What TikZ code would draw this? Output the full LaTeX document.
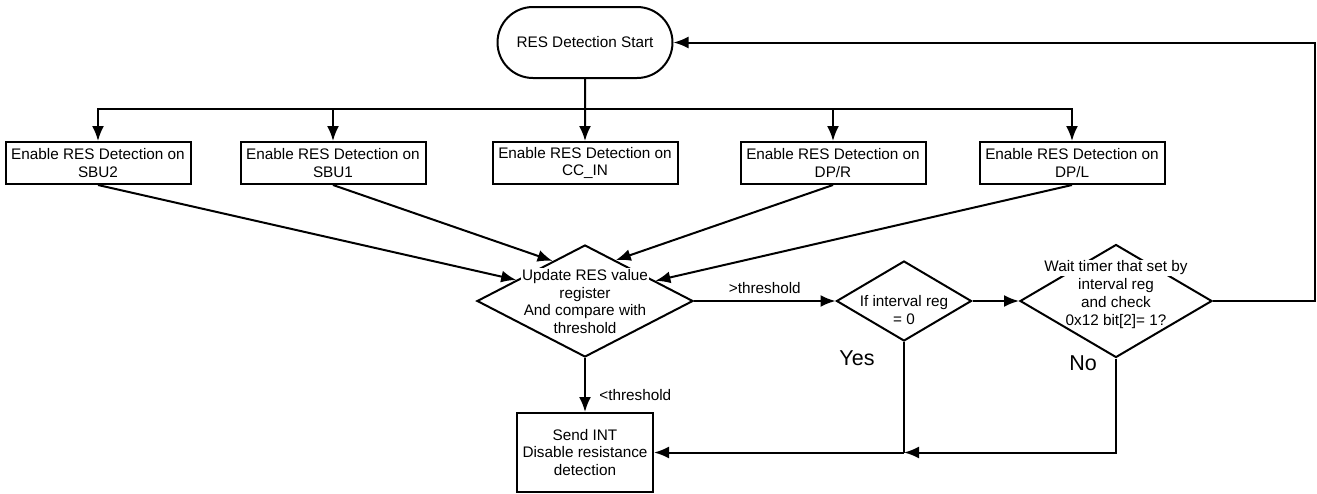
\documentclass[tikz,border=0pt]{standalone}
\usepackage{fontspec}
\setmainfont{Liberation Sans}
\usetikzlibrary{arrows.meta,shapes.geometric,shapes.misc}
\newcommand{\linebg}[1]{{\setlength{\fboxsep}{1pt}\colorbox{white}{#1}}}
\begin{document}
\begin{tikzpicture}[x=1pt, y=-1pt, line width=2pt, font=\fontsize{15.3}{17.8}\selectfont]
\tikzset{ >={Latex[length=15pt,width=12pt]},
  box/.style={draw, rectangle, minimum width=185pt, minimum height=42pt, inner sep=0pt, align=center},
  decision/.style={draw, diamond, inner sep=0pt},
  terminal/.style={draw, rounded rectangle, minimum width=175pt, minimum height=71pt, inner sep=0pt},
  answer/.style={font=\fontsize{21.5}{25}\selectfont},
}

\useasboundingbox (0,0) rectangle (1317,493);

%\draw [lightgray, dashed](0,0) grid[step=50] (1317,493);

\node [terminal] (start) at (585,42.5) {RES Detection Start};

\node [box] (sbu2) at (98,163)   {Enable RES Detection on\\SBU2};
\node [box] (sbu1) at (333,163)  {Enable RES Detection on\\SBU1};
\node [box] (cc)   at (585,163)  {Enable RES Detection on\\CC\_IN};
\node [box] (dpr)  at (833,163)  {Enable RES Detection on\\DP/R};
\node [box] (dpl)  at (1072,163) {Enable RES Detection on\\DP/L};

\node [decision, minimum width=216pt, minimum height=112pt,
       label={[align=center]center:\linebg{Update RES value}\\register\\And compare with\\threshold}] (upd) at (585,301) {};
\node [decision, minimum width=135pt, minimum height=80pt,
       label={[align=center, yshift=-9pt]center:If interval reg\\= 0}] (ifint) at (904,301) {};
\node [decision, minimum width=192pt, minimum height=113pt,
       label={[align=center, yshift=7pt]center:\linebg{Wait timer that set by}\\interval reg\\and check\\{0x12 bit[2]= 1?}}] (wait) at (1116,301) {};

\node [box, minimum width=136pt, minimum height=79pt] (send) at (585,452.5) {Send INT\\Disable resistance\\detection};

\node [answer] (yes) at (857,358) {Yes};
\node [answer] (no)  at (1083,363) {No};

\coordinate (bus)  at (585,109);
\coordinate (loop) at (1315,301);
\coordinate (join) at (904,452.5);

\draw [->] (start) -- (cc);
\draw [->] (bus) -| (sbu2);
\draw [->] (bus) -| (sbu1);
\draw [->] (bus) -| (dpr);
\draw [->] (bus) -| (dpl);

\draw [->] (sbu2.south) -- (upd.163);
\draw [->] (sbu1.south) -- (upd.129);
\draw [->] (dpr.south)  -- (upd.53);
\draw [->] (dpl.south)  -- (upd.16);

\draw [->] (upd) -- node [above=3pt] (gt) {>threshold} (ifint);
\draw [->] (ifint) -- (wait);
\draw [->] (upd) -- node [right=10pt, pos=0.68] (lt) {<threshold} (send);

\draw [->] (wait) -- (loop) |- (start);

\draw      (ifint) -- (join);
\draw [->] (wait) |- (join);
\draw [->] (join) -- (send);

\end{tikzpicture}
\end{document}
